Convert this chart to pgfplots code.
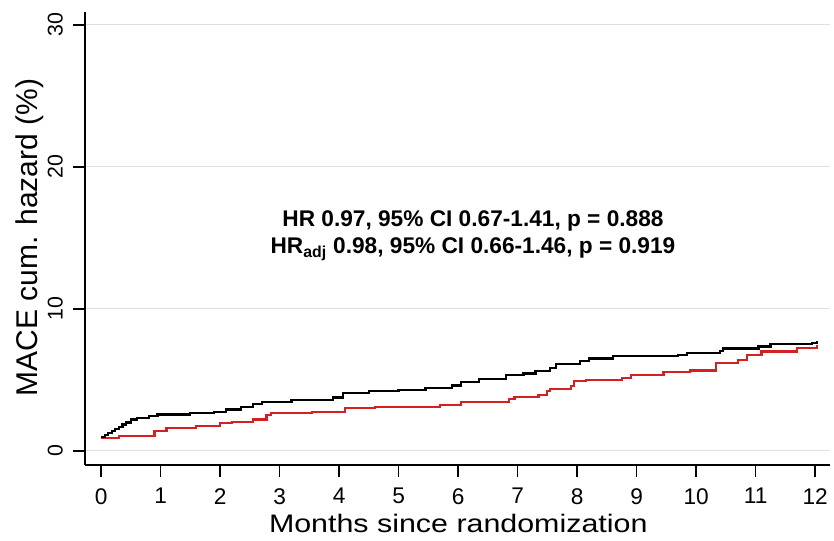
\documentclass[border=0pt]{standalone}
\usepackage{fontspec}
\setmainfont{Liberation Sans}
\usepackage{pgfplots}
\pgfplotsset{compat=1.18}
\definecolor{kmred}{HTML}{D42020}
\begin{document}
\begin{tikzpicture}
\path[use as bounding box] (-63.75pt,-56.25pt) rectangle (561.75pt,348.75pt);
\begin{axis}[
  scale only axis, width=558.75pt, height=339.75pt,
  xmin=-0.27, xmax=12.25, ymin=-1, ymax=30.9,
  axis lines*=left,
  axis line style={line width=1.1pt},
  xtick={0,...,12}, ytick={0,10,20,30},
  tick align=outside, major tick length=9pt,
  tick style={line width=1.1pt, black},
  ymajorgrids, grid style={line width=0.9pt, black!12},
  /pgf/number format/assume math mode=true,
  ticklabel style={font=\fontsize{17}{19}\selectfont},
  xticklabel style={yshift=-5pt},
  yticklabel style={font=\fontsize{16}{18}\selectfont, rotate=90, anchor=south, yshift=4pt},
  xlabel={\scalebox{1.2}[1]{Months since randomization}},
  ylabel={MACE cum. hazard (\%)},
  every axis x label/.style={font=\fontsize{19}{22}\selectfont,
    at={(axis description cs:0.501,-0.150)}, anchor=base},
  every axis y label/.style={font=\fontsize{22.5}{26}\selectfont,
    at={(axis description cs:-0.0644,0.502)}, rotate=90, anchor=base},
]
% red group
\addplot[const plot, kmred, line width=1.7pt] coordinates {
 (0,0.9) (0.3,1.05) (0.9,1.4) (1.1,1.6) (1.6,1.75) (2.0,1.95) (2.2,2.05)
 (2.55,2.2) (2.78,2.5) (2.85,2.65) (3.55,2.75) (4.1,3.0) (4.6,3.1)
 (5.7,3.25) (6.05,3.45) (6.85,3.65) (6.95,3.8) (7.35,3.95) (7.5,4.2)
 (7.55,4.35) (7.9,4.55) (7.95,4.9) (8.15,5.0) (8.75,5.15) (8.9,5.35)
 (9.45,5.55) (9.9,5.65) (10.33,6.2) (10.7,6.4) (10.85,6.75) (11.1,7.0)
 (11.7,7.25) (12.03,7.45)
};
% black group
\addplot[const plot, black, line width=1.7pt] coordinates {
 (0,0.95) (0.06,1.1) (0.12,1.25) (0.18,1.4) (0.24,1.55) (0.3,1.7)
 (0.36,1.85) (0.42,2.0) (0.5,2.2) (0.6,2.3) (0.8,2.45) (0.95,2.55)
 (1.5,2.65) (1.9,2.75)
 (2.1,2.9) (2.35,3.1) (2.55,3.3) (2.7,3.45) (3.2,3.6) (3.9,3.75)
 (4.07,4.05) (4.5,4.2) (5.0,4.3) (5.45,4.4) (5.9,4.6) (6.05,4.85)
 (6.35,5.05) (6.8,5.35) (7.1,5.45) (7.3,5.6) (7.55,5.85) (7.65,6.1)
 (8.05,6.3) (8.2,6.5) (8.6,6.7) (9.7,6.75) (9.85,6.9) (10.4,7.05)
 (10.45,7.2) (11.05,7.35) (11.25,7.5) (11.95,7.6) (12.03,7.75)
};
\node[font=\fontsize{17}{20.25}\selectfont\bfseries, align=center]
  at (axis cs:6.25,15.15)
  {HR 0.97, 95\% CI 0.67-1.41, p = 0.888\\
   HR\textsubscript{adj} 0.98, 95\% CI 0.66-1.46, p = 0.919};
\end{axis}
\end{tikzpicture}
\end{document}
